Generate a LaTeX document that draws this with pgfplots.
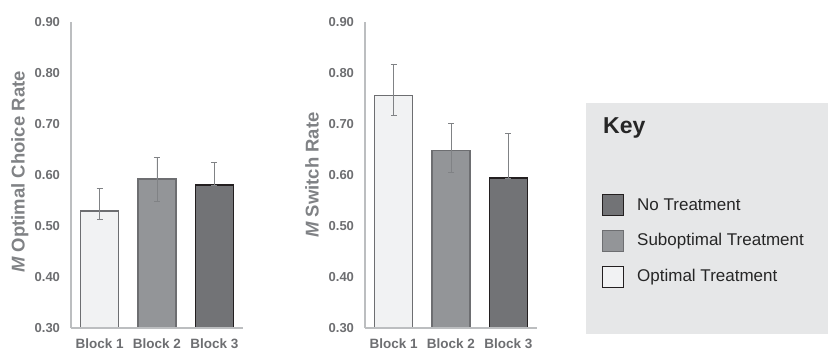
\documentclass[border=0pt]{standalone}
\usepackage{fontspec}
\setmainfont{Liberation Sans}
\usepackage{pgfplots}
\pgfplotsset{compat=1.18}
\definecolor{cLight}{HTML}{F1F2F3}
\definecolor{cMid}{HTML}{939598}
\definecolor{cDark}{HTML}{727376}
\definecolor{eLight}{HTML}{6D6E71}
\definecolor{eMid}{HTML}{6D6E71}
\definecolor{eDark}{HTML}{231F20}
\definecolor{errgray}{HTML}{808285}
\definecolor{axisgray}{HTML}{BCBEC0}
\definecolor{tickgray}{HTML}{6D6E71}
\definecolor{labelgray}{HTML}{808285}
\definecolor{keybg}{HTML}{E6E7E8}
\pgfplotsset{
  myaxis/.style={
    scale only axis, width=172pt, height=306pt, anchor=south west,
    xmin=-0.5, xmax=2.5, ymin=0.3, ymax=0.9,
    xtick={0,1,2}, xticklabels={Block 1,Block 2,Block 3},
    ytick={0.3,0.4,0.5,0.6,0.7,0.8,0.9},
    major tick length=0pt,
    axis x line*=bottom, axis y line*=left,
    axis line style={-, draw=axisgray, line width=1.5pt},
    tick label style={text=tickgray},
    yticklabel style={font=\fontsize{13}{15}\selectfont\bfseries, xshift=-7.5pt},
    xticklabel style={font=\fontsize{13.5}{15}\selectfont\bfseries, yshift=-7pt},
    /pgf/number format/assume math mode=true,
    /pgf/number format/fixed,
    /pgf/number format/fixed zerofill,
    /pgf/number format/precision=2,
    axis on top,
  },
  errs/.style={error bars/.cd, y dir=both, y explicit,
    error bar style={draw=errgray, line width=0.8pt},
    error mark options={rotate=90, mark size=3pt, draw=errgray, line width=0.8pt}},
  bLight/.style={ybar, bar shift=0pt, bar width=38pt, fill=cLight, draw=eLight, line width=1.5pt, errs},
  bMid/.style={ybar, bar shift=0pt, bar width=38pt, fill=cMid, draw=eMid, line width=1.5pt, errs},
  bDark/.style={ybar, bar shift=0pt, bar width=38pt, fill=cDark, draw=eDark, line width=1.5pt, errs},
}
\begin{document}
\begin{tikzpicture}[x=1pt,y=1pt]
\useasboundingbox (0,0) rectangle (828,351);
% Left chart
\begin{axis}[myaxis, at={(71pt,23pt)},
  ylabel={{\itshape M} Optimal Choice Rate},
  every axis y label/.style={at={(axis description cs:-0.298,0.51)}, anchor=center, rotate=90,
    font=\fontsize{18.5}{20}\selectfont\bfseries, text=labelgray}]
\addplot[bLight] coordinates {(0,0.529) += (0,0.044) -= (0,0.017)};
\addplot[bMid] coordinates {(1,0.592) += (0,0.043) -= (0,0.044)};
\addplot[bDark] coordinates {(2,0.580) += (0,0.045) -= (0,0)};
\end{axis}
% Right chart
\begin{axis}[myaxis, at={(365pt,23pt)},
  ylabel={{\itshape M} Switch Rate},
  every axis y label/.style={at={(axis description cs:-0.308,0.50)}, anchor=center, rotate=90,
    font=\fontsize{18.5}{20}\selectfont\bfseries, text=labelgray}]
\addplot[bLight] coordinates {(0,0.756) += (0,0.061) -= (0,0.039)};
\addplot[bMid] coordinates {(1,0.648) += (0,0.053) -= (0,0.043)};
\addplot[bDark] coordinates {(2,0.594) += (0,0.088) -= (0,0)};
\end{axis}
% Key box
\fill[keybg] (586,17) rectangle (828,248);
\node[anchor=west, inner sep=0pt, font=\fontsize{23}{26}\selectfont\bfseries, text=black!85] at (603,223) {Key};
\draw[fill=cDark, draw=eDark, line width=1pt] (602,135.5) rectangle (623,156.5);
\draw[fill=cMid, draw=eMid, line width=1pt] (602,99.5) rectangle (623,120.5);
\draw[fill=cLight, draw=eDark, line width=1pt] (602,63.5) rectangle (623,84.5);
\node[anchor=west, inner sep=0pt, font=\fontsize{17}{20}\selectfont, text=black!85] at (637,146) {No Treatment};
\node[anchor=west, inner sep=0pt, font=\fontsize{17}{20}\selectfont, text=black!85] at (637,110) {Suboptimal Treatment};
\node[anchor=west, inner sep=0pt, font=\fontsize{17}{20}\selectfont, text=black!85] at (637,74) {Optimal Treatment};
\end{tikzpicture}
\end{document}
